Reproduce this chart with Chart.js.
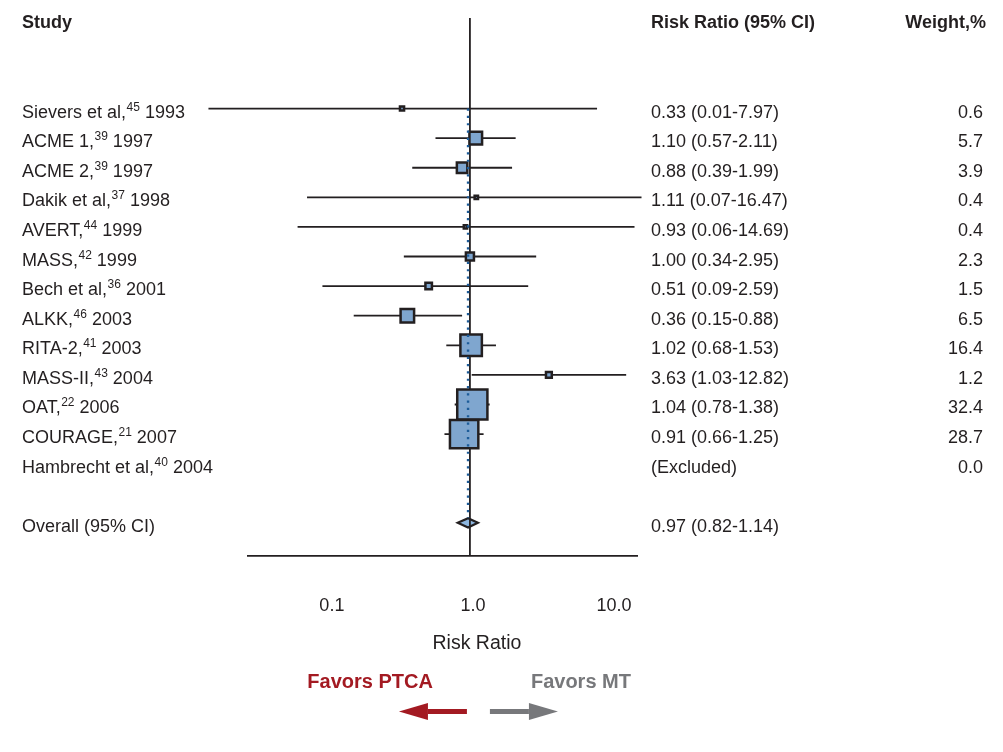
<!DOCTYPE html>
<html><head><meta charset="utf-8">
<script src="https://cdn.jsdelivr.net/npm/chart.js@4.4.1/dist/chart.umd.min.js"></script>
<style>html,body{margin:0;padding:0;background:#fff;}#wrap{width:1003px;height:752px;position:relative;}</style>
</head><body><div id="wrap"><canvas id="c" width="1003" height="752"></canvas></div>
<script>
// ---- data ----
const studies = ['Sievers et al,', 'ACME 1,', 'ACME 2,', 'Dakik et al,', 'AVERT,', 'MASS,', 'Bech et al,', 'ALKK,', 'RITA-2,', 'MASS-II,', 'OAT,', 'COURAGE,', 'Hambrecht et al,'];
const refs = ['45', '39', '39', '37', '44', '42', '36', '46', '41', '43', '22', '21', '40'];
const years = ['1993', '1997', '1997', '1998', '1999', '1999', '2001', '2003', '2003', '2004', '2006', '2007', '2004'];
const riskRatios = [0.33, 1.10, 0.88, 1.11, 0.93, 1.00, 0.51, 0.36, 1.02, 3.63, 1.04, 0.91, null];
const ciLower = [0.01, 0.57, 0.39, 0.07, 0.06, 0.34, 0.09, 0.15, 0.68, 1.03, 0.78, 0.66, null];
const ciUpper = [7.97, 2.11, 1.99, 16.47, 14.69, 2.95, 2.59, 0.88, 1.53, 12.82, 1.38, 1.25, null];
const weights = [0.6, 5.7, 3.9, 0.4, 0.4, 2.3, 1.5, 6.5, 16.4, 1.2, 32.4, 28.7, 0.0];
const overallLabel = 'Overall (95% CI)';
const overallRR = 0.97, overallLower = 0.82, overallUpper = 1.14;
const tickValues = [0.1, 1, 10];
const tickLabels = ['0.1', '1.0', '10.0'];

// ---- style ----
const FONT = "'Liberation Sans', Arial, Helvetica, sans-serif";
const INK = '#231f20';
const overallRow = studies.length + 1;
const X_RANGE = [0.0267, 15.3];
const CI_CLIP = [0.014, 17];

const forestPlugin = {
  id: 'forest',
  beforeDatasetsDraw(chart) {
    const {ctx, scales: {x, y}, chartArea} = chart;
    ctx.save();
    ctx.strokeStyle = INK;
    ctx.lineWidth = 1.8;
    riskRatios.forEach((rr, i) => {
      if (rr == null) return;
      const py = y.getPixelForValue(i);
      const x0 = x.getPixelForValue(Math.max(ciLower[i], CI_CLIP[0]));
      const x1 = x.getPixelForValue(Math.min(ciUpper[i], CI_CLIP[1]));
      ctx.beginPath(); ctx.moveTo(x0, py); ctx.lineTo(x1, py); ctx.stroke();
    });
    // overall diamond
    const oy = y.getPixelForValue(overallRow);
    const half = 4.7;
    ctx.beginPath();
    ctx.moveTo(x.getPixelForValue(overallLower), oy);
    ctx.lineTo(x.getPixelForValue(overallRR), oy - half);
    ctx.lineTo(x.getPixelForValue(overallUpper), oy);
    ctx.lineTo(x.getPixelForValue(overallRR), oy + half);
    ctx.closePath();
    ctx.fillStyle = '#8db6df';
    ctx.fill();
    ctx.lineWidth = 2.2;
    ctx.stroke();
    // reference line at 1
    const p1 = x.getPixelForValue(1);
    ctx.lineWidth = 1.8;
    ctx.beginPath(); ctx.moveTo(p1, chartArea.top); ctx.lineTo(p1, chartArea.bottom); ctx.stroke();
    ctx.restore();
  },
  afterDatasetsDraw(chart) {
    const {ctx, scales: {x, y}} = chart;
    const px = x.getPixelForValue(overallRR);
    ctx.save();
    ctx.strokeStyle = '#1d5c99';
    ctx.lineWidth = 2.4;
    ctx.setLineDash([2.2, 5.1]);
    ctx.beginPath();
    ctx.moveTo(px, y.getPixelForValue(0));
    ctx.lineTo(px, y.getPixelForValue(overallRow) - 5);
    ctx.stroke();
    ctx.restore();
  },
  afterDraw(chart) {
    const {ctx, scales: {x, y}} = chart;
    const p1 = x.getPixelForValue(1);
    ctx.save();
    ctx.fillStyle = INK;
    ctx.textBaseline = 'alphabetic';
    // headers
    ctx.font = `bold 18px ${FONT}`;
    ctx.textAlign = 'left';
    ctx.fillText('Study', 22, 28);
    ctx.fillText('Risk Ratio (95% CI)', 651, 28);
    ctx.textAlign = 'right';
    ctx.fillText('Weight,%', 986, 28);
    // rows
    studies.forEach((name, i) => {
      const by = y.getPixelForValue(i) + 9;
      ctx.textAlign = 'left';
      let tx = 22;
      ctx.font = `18px ${FONT}`;
      ctx.fillText(name, tx, by);
      tx += ctx.measureText(name).width + 0.5;
      ctx.font = `12px ${FONT}`;
      ctx.fillText(refs[i], tx, by - 7);
      tx += ctx.measureText(refs[i]).width;
      ctx.font = `18px ${FONT}`;
      ctx.fillText(' ' + years[i], tx, by);
      const ciText = riskRatios[i] == null ? '(Excluded)' :
        `${riskRatios[i].toFixed(2)} (${ciLower[i].toFixed(2)}-${ciUpper[i].toFixed(2)})`;
      ctx.fillText(ciText, 651, by);
      ctx.textAlign = 'right';
      ctx.fillText(weights[i].toFixed(1), 983, by);
    });
    const oby = y.getPixelForValue(overallRow) + 9;
    ctx.textAlign = 'left';
    ctx.font = `18px ${FONT}`;
    ctx.fillText(overallLabel, 22, oby);
    ctx.fillText(`${overallRR.toFixed(2)} (${overallLower.toFixed(2)}-${overallUpper.toFixed(2)})`, 651, oby);
    // axis title
    ctx.textAlign = 'center';
    ctx.font = `19.5px ${FONT}`;
    ctx.fillText('Risk Ratio', p1 + 7, 649);
    // favors labels
    ctx.font = `bold 20px ${FONT}`;
    ctx.textAlign = 'right';
    ctx.fillStyle = '#a31a22';
    ctx.fillText('Favors PTCA', p1 - 37, 688);
    ctx.textAlign = 'left';
    ctx.fillStyle = '#77787b';
    ctx.fillText('Favors MT', p1 + 61, 688);
    // arrows
    const ay = 711.5;
    const arrow = (xStart, xBase, xTip, color) => {
      ctx.fillStyle = color;
      ctx.fillRect(Math.min(xStart, xBase), ay - 2.5, Math.abs(xBase - xStart), 5);
      ctx.beginPath();
      ctx.moveTo(xBase, ay - 8.5);
      ctx.lineTo(xTip, ay);
      ctx.lineTo(xBase, ay + 8.5);
      ctx.closePath();
      ctx.fill();
    };
    arrow(p1 - 3, p1 - 42, p1 - 71, '#a31a22');
    arrow(p1 + 20, p1 + 59, p1 + 88, '#77787b');
    ctx.restore();
  }
};

const points = riskRatios.map((rr, i) => rr == null ? null : {x: rr, y: i}).filter(p => p);

new Chart(document.getElementById('c'), {
  type: 'scatter',
  data: {
    datasets: [{
      data: points,
      pointStyle: 'rect',
      pointRadius: c => Math.max(5.3 * Math.sqrt(weights[c.raw.y]), 3) / Math.SQRT2,
      pointHoverRadius: c => Math.max(5.3 * Math.sqrt(weights[c.raw.y]), 3) / Math.SQRT2,
      backgroundColor: '#7fa6cf',
      borderColor: INK,
      borderWidth: 2.5,
      hoverBorderWidth: 2.5
    }]
  },
  options: {
    responsive: false,
    animation: false,
    events: [],
    layout: {autoPadding: false, padding: {left: 248, right: 366, top: 18, bottom: 0}},
    plugins: {legend: {display: false}, tooltip: {enabled: false}},
    scales: {
      x: {
        type: 'logarithmic',
        position: 'bottom',
        min: X_RANGE[0],
        max: X_RANGE[1],
        grid: {display: false, drawTicks: false},
        border: {display: true, color: INK, width: 1.8},
        afterBuildTicks: s => { s.ticks = tickValues.map(v => ({value: v})); },
        ticks: {
          autoSkip: false,
          maxRotation: 0,
          padding: 39,
          labelOffset: 3,
          color: INK,
          font: {family: FONT, size: 18},
          callback: v => tickLabels[tickValues.indexOf(v)]
        },
        afterFit: s => { s.height = 196; }
      },
      y: {
        type: 'linear',
        reverse: true,
        min: -3.06,
        max: 15.12,
        display: false
      }
    }
  },
  plugins: [forestPlugin]
});
</script></body></html>
